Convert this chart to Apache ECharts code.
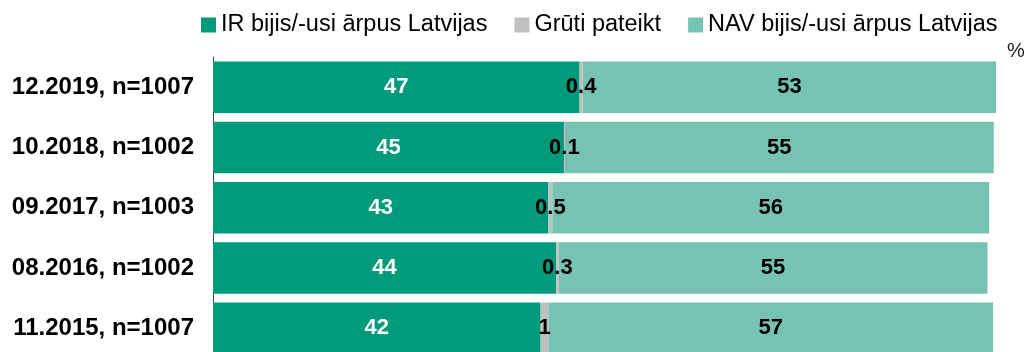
<!DOCTYPE html>
<html>
<head>
<meta charset="utf-8">
<script src="https://cdn.jsdelivr.net/npm/echarts@6/dist/echarts.min.js"></script>
<style>
  html, body { margin: 0; padding: 0; background: #ffffff; }
  #chart { width: 1035px; height: 352px; }
</style>
</head>
<body>
<div id="chart"></div>
<script>
// Survey waves (top to bottom)
const categories = [
  '12.2019, n=1007',
  '10.2018, n=1002',
  '09.2017, n=1003',
  '08.2016, n=1002',
  '11.2015, n=1007'
];
// Shares in %
const irAbroad = [47, 45, 43, 44, 42];
const hardToSay = [0.4, 0.1, 0.5, 0.3, 1];
const navAbroad = [53, 55, 56, 55, 57];

const seriesNames = ['IR bijis/-usi ārpus Latvijas', 'Grūti pateikt', 'NAV bijis/-usi ārpus Latvijas'];
const colors = ['#009B7A', '#C0C0C0', '#77C3B3'];

const FONT = '"Liberation Sans", Arial, sans-serif';

const chart = echarts.init(document.getElementById('chart'), null, { renderer: 'canvas' });

function barSeries(name, data, color, labelColor) {
  return {
    name: name,
    type: 'bar',
    stack: 'total',
    data: data,
    barCategoryGap: '14.6%',
    itemStyle: { color: color },
    label: {
      show: true,
      position: 'inside',
      color: labelColor,
      fontFamily: FONT,
      fontWeight: 'bold',
      fontSize: 22,
      formatter: p => String(p.value)
    },
    emphasis: { disabled: true },
    animation: false
  };
}

chart.setOption({
  animation: false,
  color: colors,
  legend: {
    left: 196,
    top: 8,
    itemWidth: 15,
    itemHeight: 15,
    itemGap: 27,
    icon: 'rect',
    textStyle: { fontFamily: FONT, fontSize: 23.5, color: '#000000' },
    data: seriesNames
  },
  grid: {
    left: 213,
    top: 57,
    width: 811.2,
    height: 301.5,
    outerBoundsMode: 'none',
    containLabel: false
  },
  xAxis: {
    type: 'value',
    min: 0,
    max: 104,
    show: false
  },
  yAxis: {
    type: 'category',
    inverse: true,
    data: categories,
    axisLine: { show: true, lineStyle: { color: '#404040', width: 1 } },
    axisTick: { show: false },
    axisLabel: {
      margin: 19,
      color: '#000000',
      fontFamily: FONT,
      fontWeight: 'bold',
      fontSize: 24
    }
  },
  graphic: [{
    type: 'text',
    left: 1007,
    top: 41,
    style: { text: '%', fontFamily: FONT, fontSize: 20, fill: '#222222' }
  }],
  series: [
    barSeries(seriesNames[0], irAbroad, colors[0], '#ffffff'),
    barSeries(seriesNames[1], hardToSay, colors[1], '#000000'),
    barSeries(seriesNames[2], navAbroad, colors[2], '#000000')
  ]
});
</script>
</body>
</html>
